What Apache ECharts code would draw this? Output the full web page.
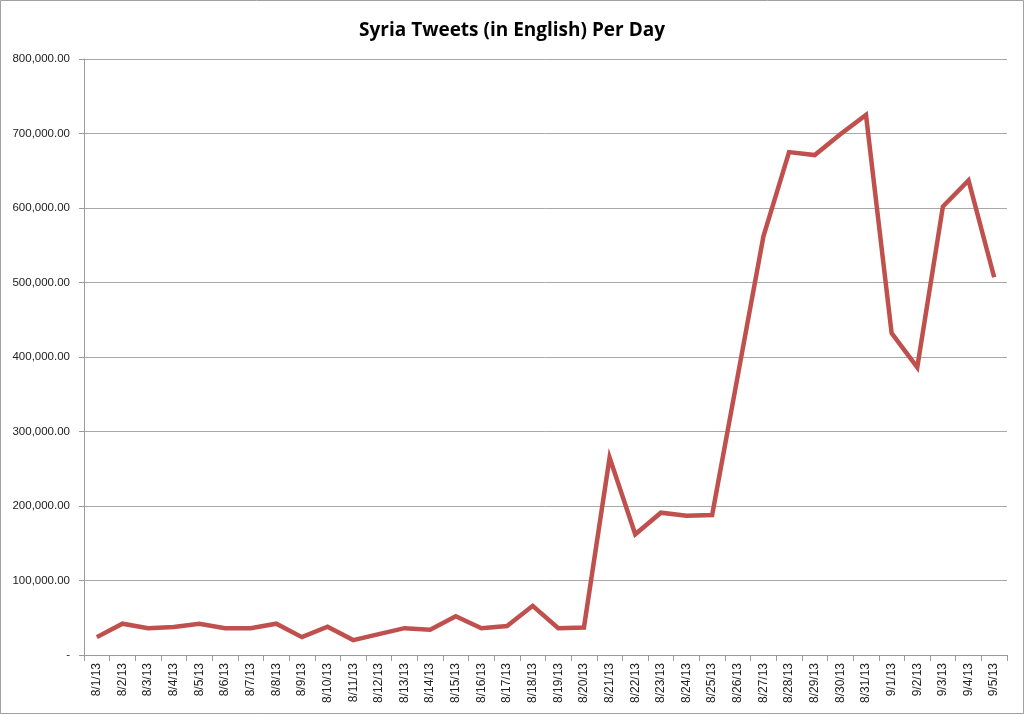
<!DOCTYPE html>
<html>
<head>
<meta charset="utf-8">
<script src="https://cdn.jsdelivr.net/npm/echarts@6/dist/echarts.min.js"></script>
<style>
html,body{margin:0;padding:0;background:#fff;}
#main{width:1024px;height:715px;}
</style>
</head>
<body>
<div id="main"></div>
<script>
const titleText = 'Syria Tweets (in English) Per Day';
const dates = ['8/1/13','8/2/13','8/3/13','8/4/13','8/5/13','8/6/13','8/7/13','8/8/13','8/9/13','8/10/13',
  '8/11/13','8/12/13','8/13/13','8/14/13','8/15/13','8/16/13','8/17/13','8/18/13','8/19/13','8/20/13',
  '8/21/13','8/22/13','8/23/13','8/24/13','8/25/13','8/26/13','8/27/13','8/28/13','8/29/13','8/30/13',
  '8/31/13','9/1/13','9/2/13','9/3/13','9/4/13','9/5/13'];
const tweets = [24000,42000,36000,37500,42000,36000,36000,42000,24000,38000,
  20000,28000,36000,34000,52000,36000,39000,66000,36000,37000,
  265000,162000,191000,187000,188000,375000,562000,675000,671000,699000,
  725000,432000,386000,602000,637000,507000];
const yMin = 0, yMax = 800000, yStep = 100000;

const chart = echarts.init(document.getElementById('main'));
chart.setOption({
  animation: false,
  backgroundColor: '#fff',
  title: {
    text: titleText,
    left: 'center',
    top: 16,
    textStyle: {fontFamily: 'Open Sans', fontWeight: 'bold', fontSize: 19, color: '#000'}
  },
  graphic: [{
    type: 'rect',
    shape: {x: 0.5, y: 0.5, width: 1023, height: 713},
    style: {fill: 'none', stroke: '#a0a0a0', lineWidth: 1},
    silent: true
  }],
  grid: {left: 84, right: 17, top: 59, bottom: 60, containLabel: false},
  xAxis: {
    type: 'category',
    data: dates,
    boundaryGap: true,
    axisLine: {lineStyle: {color: '#9a9a9a', width: 1}},
    axisTick: {show: true, inside: false, length: 6, lineStyle: {color: '#9a9a9a'}},
    axisLabel: {rotate: 90, interval: 0, fontFamily: 'Liberation Sans', fontSize: 12, color: '#222', margin: 8}
  },
  yAxis: {
    type: 'value',
    min: yMin, max: yMax, interval: yStep,
    axisLine: {show: true, lineStyle: {color: '#9a9a9a', width: 1}},
    axisTick: {show: true, inside: false, length: 5, lineStyle: {color: '#9a9a9a'}},
    splitLine: {lineStyle: {color: '#a8a8a8', width: 1}},
    axisLabel: {
      fontFamily: 'Liberation Sans', fontSize: 11.5, color: '#222', margin: 14,
      formatter: function (v) {
        if (v === 0) return '-';
        return v.toLocaleString('en-US', {minimumFractionDigits: 2, maximumFractionDigits: 2});
      }
    }
  },
  series: [{
    type: 'line',
    data: tweets,
    showSymbol: false,
    symbol: 'none',
    lineStyle: {color: '#C0504D', width: 4.5, join: 'miter'},
    itemStyle: {color: '#C0504D'}
  }]
});
</script>
</body>
</html>
